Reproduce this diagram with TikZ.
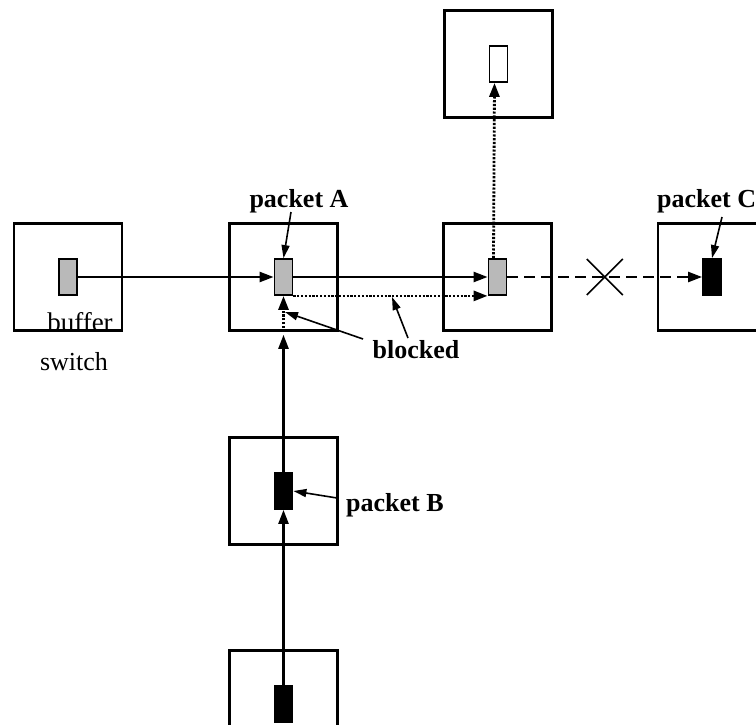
\documentclass[tikz,border=0pt]{standalone}
\usepackage{fontspec}
\setmainfont{Liberation Serif}
\usetikzlibrary{arrows.meta,positioning}

\begin{document}
\begin{tikzpicture}[x=1pt,y=-1pt,
  switchbox/.style={draw,line width=2.6pt,minimum width=108pt,minimum height=107pt,inner sep=0pt},
  buf/.style={draw,line width=1.8pt,minimum width=18pt,minimum height=36pt,inner sep=0pt},
  full/.style={buf,fill=gray!55},
  held/.style={buf,fill=black},
  link/.style={line width=2.4pt,-{Triangle[length=14pt,width=10pt]}},
  waiting/.style={link,line width=2.8pt,dash pattern=on 2.2pt off 1.6pt},
  stopped/.style={link,dash pattern=on 11pt off 6pt},
  pointer/.style={line width=1.6pt,-{Triangle[length=13pt,width=8pt]}},
  tag/.style={font=\fontsize{26}{30}\selectfont\bfseries,inner sep=0pt},
  plain/.style={font=\fontsize{26}{30}\selectfont,inner sep=0pt}]
\useasboundingbox (0,0) rectangle (756,725);
\clip (0,0) rectangle (756,725);

% Switches
\node[switchbox] (sw1) at (68,277) {};
\node[switchbox] (swA) at (283.5,277) {};
\node[switchbox] (swR) at (497.5,277) {};
\node[switchbox] (swC) at (712,277) {};
\node[switchbox] (swT) at (498.5,64) {};
\node[switchbox] (swB) at (283.5,491) {};
\node[switchbox] (swD) at (283.5,704) {};

% Buffers
\node[full] (b1) at (sw1.center) {};
\node[full] (bA) at (swA.center) {};
\node[full] (bR) at (swR.center) {};
\node[held] (bC) at (swC.center) {};
\node[buf]  (bT) at (swT.center) {};
\node[held] (bB) at (swB.center) {};
\node[held] (bD) at (swD.center) {};

% Links
\draw[link] (b1.east) -- (bA.west);
\draw[link] (bA.east) -- (bR.west);
\draw[stopped] (bR.east) -- coordinate (cut) (bC.west);
\draw[line width=1.6pt] ([shift={(-18,-18)}]cut) -- ([shift={(18,18)}]cut)
                        ([shift={(-18,18)}]cut) -- ([shift={(18,-18)}]cut);
\draw[link] (bD.north) -- (bB.south);
\coordinate (halt) at ([yshift=-3pt]swA.south);
\draw[link] (bB.north) -- (halt);
\draw[waiting] (swA.south) -- (bA.south);
\draw[waiting] (bA.south east) -- (bR.south west);
\draw[waiting] ([xshift=-4pt]bR.north) -- ([xshift=-4pt]bT.south);

% Labels
\node[tag,anchor=base] (tagA) at (299,207) {packet A};
\node[tag,anchor=base west] (tagC) at (657,207) {packet C};
\node[tag,anchor=base west] (tagB) at (346,511) {packet B};
\node[tag,anchor=base] (tagK) at (416,358) {blocked};
\node[plain,anchor=base,font=\fontsize{27}{32}\selectfont] (buflbl) at (80,331) {buffer};
\node[plain,anchor=base] (swlbl) at (74,370) {switch};

\coordinate (jam1) at (285,312);
\coordinate (jam2) at (392,297);
\draw[pointer] ([shift={(-8,5)}]tagA.base) -- (bA.north);
\draw[pointer] ([shift={(65,10)}]tagC.base west) -- (bC.north);
\draw[pointer] ([shift={(-9,-13)}]tagB.base west) -- (bB.east);
\draw[pointer] ([shift={(-53,-19)}]tagK.base) -- (jam1);
\draw[pointer] ([shift={(-8,-20)}]tagK.base) -- (jam2);
\end{tikzpicture}
\end{document}
